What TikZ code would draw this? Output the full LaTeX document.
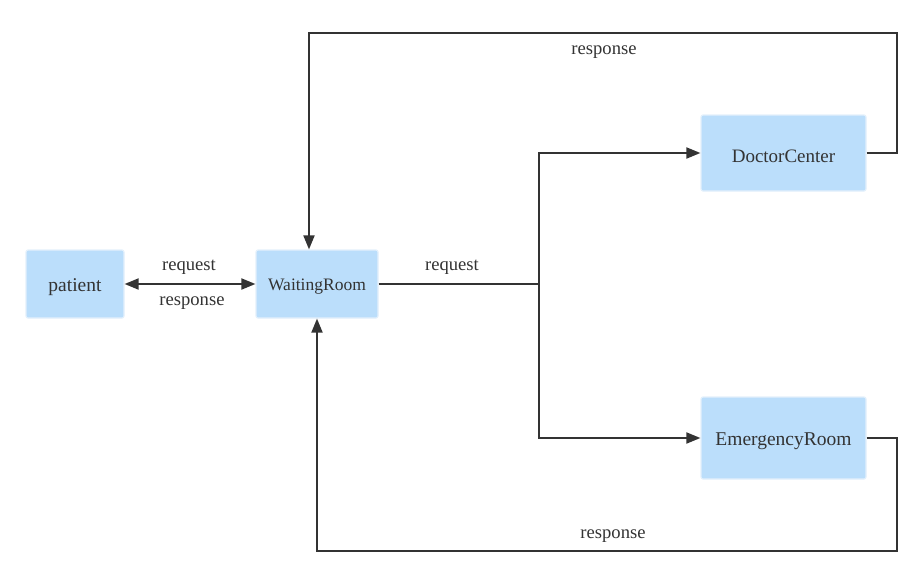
\documentclass[tikz,border=0pt]{standalone}
\usepackage{fontspec}
\setmainfont{Liberation Serif}
\usetikzlibrary{arrows.meta}
\definecolor{boxfill}{HTML}{BBDEFB}
\definecolor{boxline}{HTML}{E3F0FB}
\definecolor{ink}{HTML}{333333}
\newcommand{\dn}[1]{\raisebox{-3pt}[\height][\depth]{#1}}
\begin{document}
\begin{tikzpicture}[x=1pt,y=-1pt,
  box/.style={draw=boxline,line width=1.2pt,fill=boxfill,rounded corners=2pt,inner sep=0pt,text=ink},
  conn/.style={draw=ink,line width=1.9pt},
  tip/.style={-{Triangle[length=14pt,width=11pt]}},
  lbl/.style={text=ink,font=\fontsize{18.6}{20}\selectfont,inner sep=0pt}]
\useasboundingbox (0,0) rectangle (922,582);
\node[box,minimum width=98pt,minimum height=68pt,font=\fontsize{19.5}{22}\selectfont] (pat) at (75,284) {\dn{patient}};
\node[box,minimum width=122pt,minimum height=68pt,font=\fontsize{17.5}{20}\selectfont] (wr) at (317,284) {\dn{WaitingRoom}};
\node[box,minimum width=165pt,minimum height=76pt,font=\fontsize{19}{22}\selectfont] (dc) at (783.5,153) {\dn{DoctorCenter}};
\node[box,minimum width=165pt,minimum height=82pt,font=\fontsize{19.5}{22}\selectfont] (er) at (783.5,438) {\dn{EmergencyRoom}};
\coordinate (j) at (539,284);
\coordinate (c1) at (897,33);
\coordinate (c2) at (897,551);
\draw[conn,{Triangle[length=14pt,width=11pt]}-{Triangle[length=14pt,width=11pt]}] (pat.east) -- (wr.west);
\draw[conn] (wr.east) -- (j);
\draw[conn,tip] (j) |- (dc.west);
\draw[conn,tip] (j) |- (er.west);
\draw[conn,tip] (dc.east) -| (c1) -| ([xshift=-8pt]wr.north);
\draw[conn,tip] (er.east) -| (c2) -| (wr.south);
\node[lbl] (l1) at (189,267) {request};
\node[lbl] (l2) at (192,303) {response};
\node[lbl] (l3) at (452,267) {request};
\node[lbl] (l4) at (604,52) {response};
\node[lbl] (l5) at (613,536) {response};
\end{tikzpicture}
\end{document}
